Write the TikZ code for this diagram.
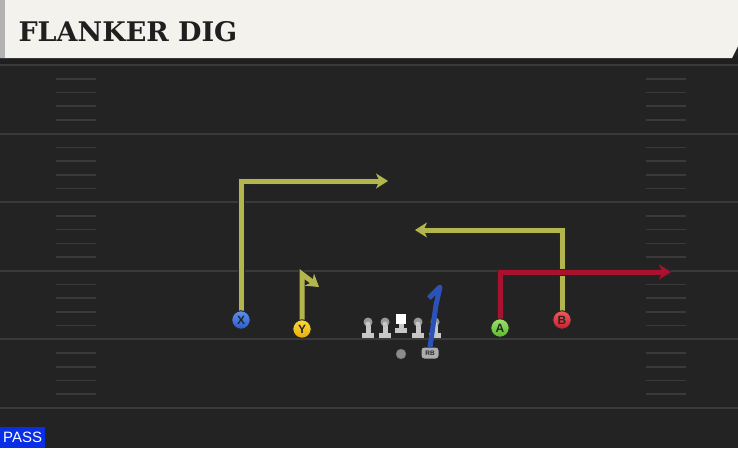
\documentclass[tikz,border=0pt]{standalone}
\usepackage{fontspec}
\setmainfont{Liberation Sans}
\newfontfamily\titlefont{DejaVu Serif}[BoldFont={DejaVu Serif Bold}]
\usetikzlibrary{arrows.meta}
\definecolor{fieldbg}{HTML}{232323}
\definecolor{yardline}{HTML}{3A3A3A}
\definecolor{hashline}{HTML}{3A3A3A}
\definecolor{banner}{HTML}{F4F2EC}
\definecolor{olive}{HTML}{B3B64C}
\definecolor{crimson}{HTML}{A8122F}
\definecolor{rbblue}{HTML}{2B52B8}
\definecolor{passblue}{HTML}{0A2DE6}
\definecolor{xtop}{HTML}{5C90F0}
\definecolor{xbot}{HTML}{2C5CC6}
\definecolor{ytop}{HTML}{FAD838}
\definecolor{ybot}{HTML}{E6AE10}
\definecolor{atop}{HTML}{98E468}
\definecolor{abot}{HTML}{5CB82C}
\definecolor{btop}{HTML}{F25A5A}
\definecolor{bbot}{HTML}{C41E2E}
\begin{document}
\begin{tikzpicture}[x=1pt, y=-1pt,
        player/.style = {circle, draw=black!85, line width=1pt, minimum size=18.5pt, inner sep=0pt, text=black!85, font=\bfseries\fontsize{12}{12}\selectfont},
        route/.style = {line width=5pt, preaction={draw=black!85, line width=7pt, -}, -{Stealth[length=12pt, width=15pt, inset=3.5pt]}},
        hash/.style = {hashline, line width=1.6pt},
        lineman/.style = {fill=black!22},
        every node/.style = {align=center}
    ]
    \useasboundingbox (0,0) rectangle (738,448);
    \fill[fieldbg] (0,0) rectangle (738,448);
    \fill[black!88] (0,56) rectangle (738,64);
    \fill[banner] (0,0) -- (738,0) -- (738,46) -- (732,58) -- (0,58) -- cycle;
    \fill[black!30] (0,0) rectangle (5,58);
    \node[anchor=west, text=black!88, font=\titlefont\bfseries\fontsize{27}{27}\selectfont] (title) at (15,32) {FLANKER DIG};
    \foreach \i in {0,...,5}
        \draw[yardline, line width=2pt] (0,65+68.6*\i) -- (738,65+68.6*\i);
    \foreach \i in {0,...,4}
        \foreach \k in {1,...,4} {
            \draw[hash] (56,65+68.6*\i+13.7*\k) -- (96,65+68.6*\i+13.7*\k);
            \draw[hash] (646,65+68.6*\i+13.7*\k) -- (686,65+68.6*\i+13.7*\k);
        }
    \foreach \lx in {368,385,418,435} {
        \fill[lineman] (\lx-6,333) rectangle (\lx+6,338);
        \fill[lineman] (\lx-2.5,323) rectangle (\lx+2.5,334);
        \fill[black!40] (\lx,322) circle (4.5);
        \fill[black!22] (\lx,324) circle (2.5);
    }
    \fill[lineman] (395,328) rectangle (407,333);
    \fill[lineman] (398.5,321) rectangle (403.5,329);
    \fill[white] (396,313.5) rectangle (406,323.5);
    \node[circle, fill=black!45, draw=black!60, minimum size=10pt, inner sep=0pt] (qb) at (401,354) {};
    \node[rounded corners=3pt, fill=black!32, minimum width=17pt, minimum height=11pt, inner sep=0pt, text=black!85, font=\bfseries\fontsize{6.5}{6.5}\selectfont] (rb) at (430,353) {RB};
    \coordinate (xend) at (388,181);
    \coordinate (yturn) at (302,274);
    \coordinate (yend) at (319,287);
    \coordinate (bend) at (415,230);
    \coordinate (aend) at (671,272);
    \coordinate (rbkink) at (436,305);
    \coordinate (rbtop) at (440,287);
    \coordinate (rbhook) at (429,298);
    \draw[route, olive] (241,320) |- (xend);
    \draw[route, olive] (302,329) -- (yturn) -- (yend);
    \draw[route, olive] (562,320) |- (bend);
    \draw[route, crimson] (500,328) |- (aend);
    \draw[rbblue, line width=5pt, line join=round] (rb.north) -- (rbkink) -- (rbtop) -- (rbhook);
    \node[player, top color=xtop, bottom color=xbot] (x) at (241,320) {X};
    \node[player, top color=ytop, bottom color=ybot] (y) at (302,329) {Y};
    \node[player, top color=atop, bottom color=abot] (a) at (500,328) {A};
    \node[player, top color=btop, bottom color=bbot] (b) at (562,320) {B};
    \node[anchor=south west, fill=passblue, text=white, minimum width=45pt, minimum height=21pt, inner sep=0pt, font=\fontsize{15}{15}\selectfont] (pass) at (0,448) {PASS};
\end{tikzpicture}
\end{document}
